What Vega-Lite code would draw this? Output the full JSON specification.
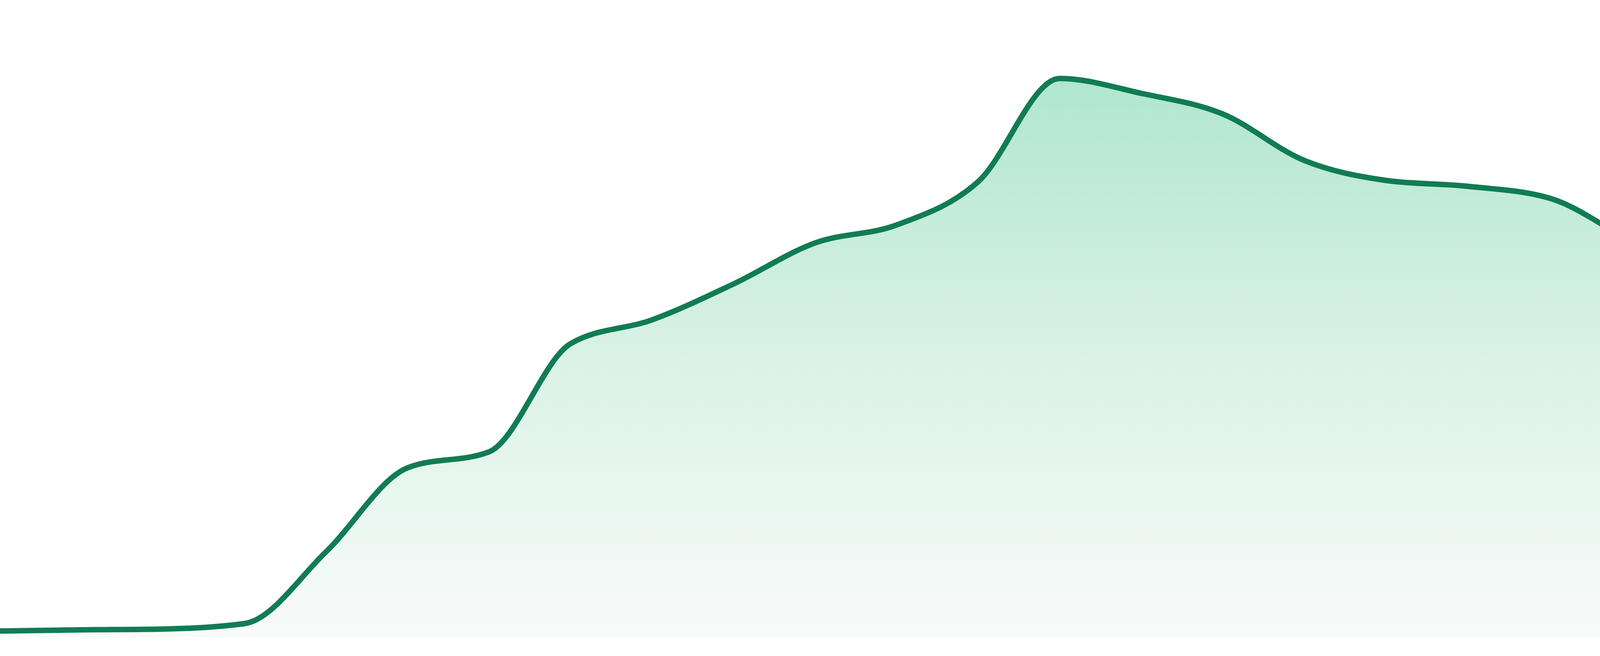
{
  "$schema": "https://vega.github.io/schema/vega-lite/v6.json",
  "width": 4800,
  "height": 1632,
  "autosize": {"type": "none"},
  "padding": {"left": 0, "right": 0, "top": 0, "bottom": 48},
  "background": "#ffffff",
  "config": {"view": {"stroke": null}},
  "data": {
    "values": [
      {"i": 0, "v": 1.6},
      {"i": 1, "v": 1.9},
      {"i": 2, "v": 2.1},
      {"i": 3, "v": 3.5},
      {"i": 4, "v": 21.9},
      {"i": 5, "v": 43.4},
      {"i": 6, "v": 47.5},
      {"i": 7, "v": 75.2},
      {"i": 8, "v": 81.3},
      {"i": 9, "v": 90.5},
      {"i": 10, "v": 101.0},
      {"i": 11, "v": 105.6},
      {"i": 12, "v": 116.7},
      {"i": 13, "v": 143.1},
      {"i": 14, "v": 139.3},
      {"i": 15, "v": 134.0},
      {"i": 16, "v": 122.1},
      {"i": 17, "v": 117.0},
      {"i": 18, "v": 115.5},
      {"i": 19, "v": 112.5},
      {"i": 20, "v": 101.4},
      {"i": 21, "v": 89.5},
      {"i": 22, "v": 104.7},
      {"i": 23, "v": 117.7}
    ]
  },
  "encoding": {
    "x": {"field": "i", "type": "quantitative", "scale": {"domain": [0, 23], "nice": false, "zero": false}, "axis": null},
    "y": {"field": "v", "type": "quantitative", "scale": {"domain": [0, 163.2], "nice": false}, "axis": null}
  },
  "layer": [
    {
      "mark": {
        "type": "area",
        "interpolate": "monotone",
        "color": {
          "gradient": "linear",
          "x1": 0, "y1": 0, "x2": 0, "y2": 1,
          "stops": [
            {"offset": 0, "color": "#b0e6cf"},
            {"offset": 0.5, "color": "#daf2e7"},
            {"offset": 1, "color": "#f8fbfa"}
          ]
        }
      }
    },
    {
      "mark": {"type": "line", "interpolate": "monotone", "color": "#117c53", "strokeWidth": 14}
    }
  ]
}
